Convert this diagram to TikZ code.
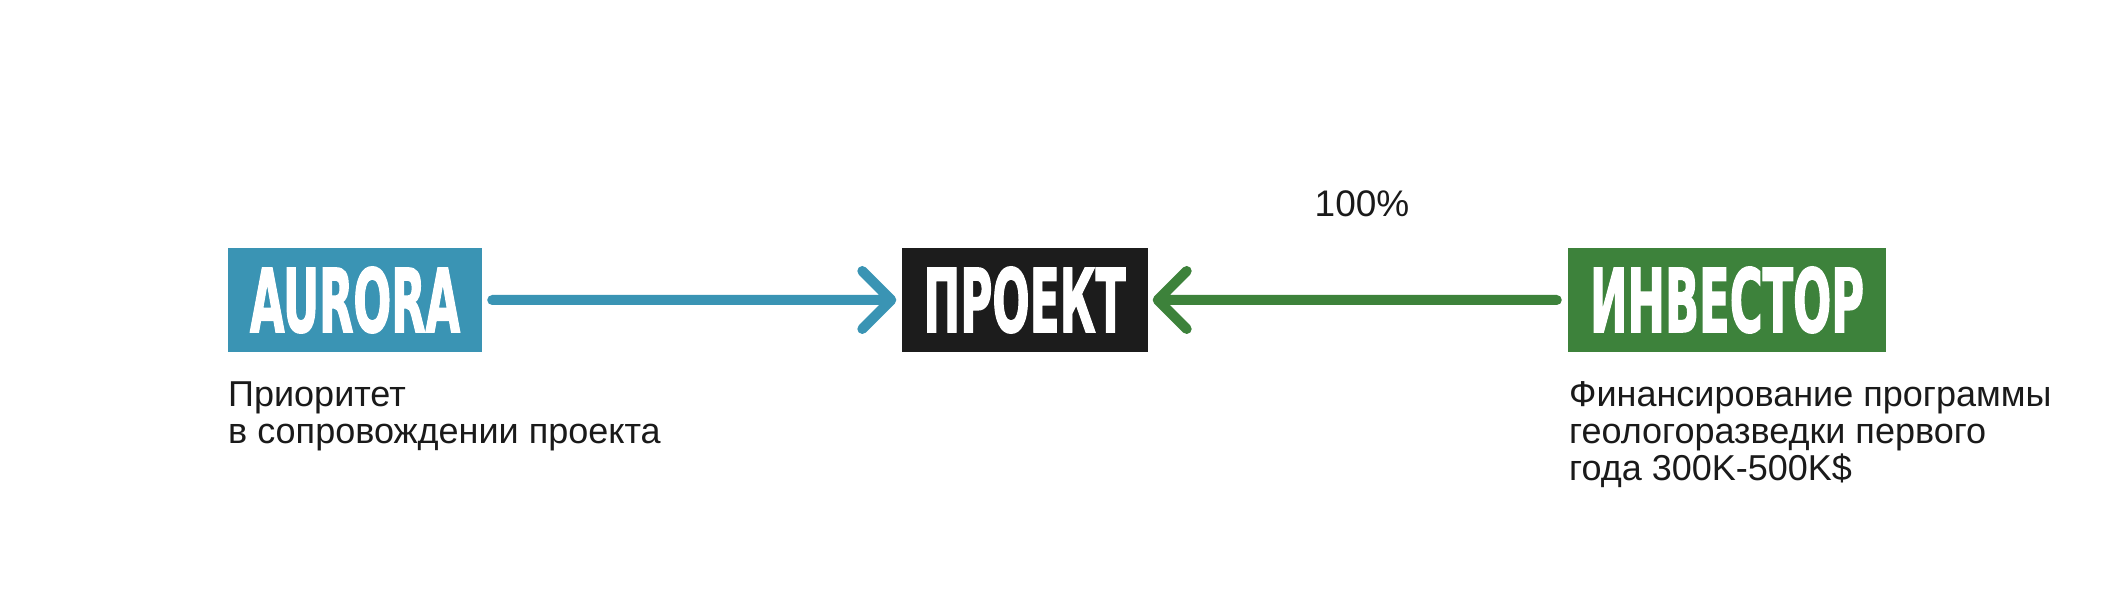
\documentclass[tikz,border=0pt]{standalone}
\usepackage{fontspec}
\setmainfont{Liberation Sans}
\newfontfamily\titlefont[FakeBold=2]{DejaVu Sans Condensed Bold}
\usetikzlibrary{positioning,calc}

\definecolor{aurorablue}{HTML}{3A94B4}
\definecolor{investorgreen}{HTML}{3D823B}
\definecolor{projblack}{HTML}{1C1C1C}
\definecolor{textgray}{HTML}{1A1A1A}

\newcommand{\boxtitle}[2]{\resizebox{#1}{65pt}{\titlefont #2}}

\tikzset{
  party/.style={inner xsep=22pt,inner ysep=0pt,minimum height=104pt,text=white},
  link/.style={line width=10pt,line cap=round,line join=round},
  note/.style={align=left,anchor=base west,inner sep=0pt,text=textgray,
    font=\fontsize{36}{37.5}\selectfont}
}

\begin{document}
\begin{tikzpicture}[x=1pt,y=1pt]
        \fill[white] (0,0) rectangle (2110,600);
        \useasboundingbox (0,0) rectangle (2110,600);
		\node[party,fill=aurorablue] (aurora) at (355,300) {\boxtitle{210pt}{AURORA}};
		\node[party,fill=projblack] (proekt) at (1024.5,300) {\boxtitle{202pt}{ПРОЕКТ}};
		\node[party,fill=investorgreen] (investor) at (1727,300) {\boxtitle{274pt}{ИНВЕСТОР}};
		% connectors with open chevron heads
		\draw[link,aurorablue] ([xshift=10pt]aurora.east) -- ([xshift=-10pt]proekt.west) coordinate (tipa)
			++(-29,29) -- (tipa) -- ++(-29,-29);
		\draw[link,investorgreen] ([xshift=-11pt]investor.west) -- ([xshift=10pt]proekt.east) coordinate (tipb)
			++(29,29) -- (tipb) -- ++(29,-29);
		\node[font=\fontsize{37}{37}\selectfont,text=textgray,anchor=base] (share) at (1362,383) {100\%};
		% base west = baseline of the last line
		\node[note] (auroranote) at (228,156.5) {Приоритет\\в сопровождении проекта};
		\node[note] (investornote) at (1569,119) {Финансирование программы\\геологоразведки первого\\года 300K-500K\$};
	\end{tikzpicture}
\end{document}
